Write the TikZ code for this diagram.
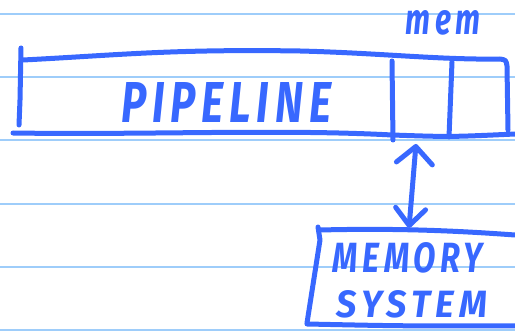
\documentclass[tikz,border=0pt]{standalone}
\usepackage{fontspec}
\setmainfont{Fira Sans}
\newfontfamily\markerfont[LetterSpace=14]{Fira Sans}
\usetikzlibrary{arrows.meta}
\definecolor{ink}{RGB}{56,104,255}
\definecolor{rule}{RGB}{158,205,250}
\begin{document}
\begin{tikzpicture}[x=1pt,y=-1pt,
  pen/.style={draw=ink,line width=5pt,line cap=round,line join=round},
  ruling/.style={draw=rule,line width=2pt},
  label/.style={inner sep=0pt,outer sep=0pt,text=ink,font=\markerfont\bfseries\itshape},
  link/.style={pen,{Straight Barb[length=17pt,width=36pt,round]}-{Straight Barb[length=17pt,width=30pt,round]}}]
  \useasboundingbox (0,0) rectangle (515,331);
  % ruled notebook paper
  \foreach \y in {14,77,140.5,204,267.5,330}
    \draw[ruling] (0,\y) -- (515,\y);

  % pipeline bar
  \draw[pen] (21,48) -- (20,100) -- (19,125);
  \draw[pen] (23,60) .. controls (120,55) and (170,49) .. (300,51)
             .. controls (380,53) and (440,60) .. (500,59)
             .. controls (506,60) .. (507,66) -- (508,130);
  \draw[pen] (13,133) .. controls (150,135) and (280,129) .. (392,135)
             .. controls (450,137) .. (515,134);
  \draw[pen] (392,61) -- (393,140);
  \draw[pen] (452,62) -- (449,137);
  \node[label] (pipe) at (226,103) {\resizebox{210pt}{40pt}{PIPELINE}};
  \node[label] (mem) at (443,23) {\resizebox{74pt}{24pt}{mem}};

  % memory system box
  \draw[pen] (318,227) -- (320,240) -- (307,323);
  \draw[pen] (320,230) .. controls (400,228) and (460,231) .. (515,235);
  \draw[pen] (307,324) .. controls (400,326) .. (515,326);
  \node[label] (memory) at (408,258) {\resizebox{150pt}{30pt}{MEMORY}};
  \node[label] (system) at (412,304) {\resizebox{150pt}{27pt}{SYSTEM}};

  % link between the bar and the memory system
  \coordinate (up) at (416,144);
  \coordinate (down) at (409,228);
  \draw[link] (up) -- (down);
\end{tikzpicture}
\end{document}
